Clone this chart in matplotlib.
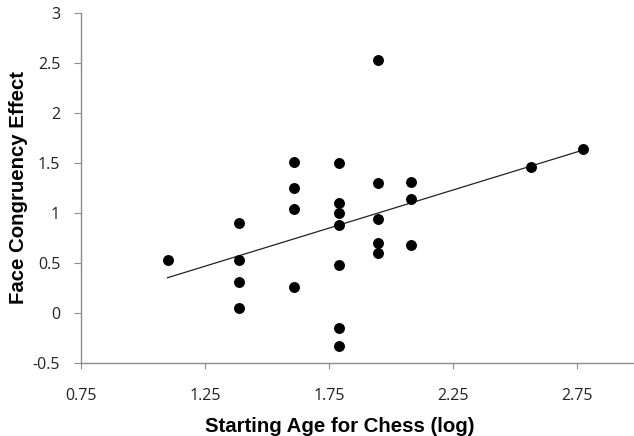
import numpy as np
import matplotlib.pyplot as plt

# starting age (natural log) and face congruency effect
start_age_log = [1.099,
                 1.386, 1.386, 1.386, 1.386,
                 1.609, 1.609, 1.609, 1.609,
                 1.792, 1.792, 1.792, 1.792, 1.792, 1.792, 1.792,
                 1.946, 1.946, 1.946, 1.946, 1.946,
                 2.079, 2.079, 2.079,
                 2.565, 2.773]
face_effect = [0.53,
               0.90, 0.53, 0.31, 0.05,
               1.51, 1.25, 1.04, 0.26,
               1.50, 1.10, 1.00, 0.88, 0.48, -0.15, -0.33,
               2.53, 1.30, 0.94, 0.70, 0.60,
               1.31, 1.14, 0.68,
               1.46, 1.64]
x_ticks = [0.75, 1.25, 1.75, 2.25, 2.75]
y_ticks = [-0.5, 0, 0.5, 1, 1.5, 2, 2.5, 3]
y_ticklabels = ["-0.5", "0", "0.5", "1", "1.5", "2", "2.5", "3"]

fig = plt.figure(figsize=(6.34, 4.36), dpi=100)
ax = fig.add_axes([81 / 634, 73 / 436, 1 - 81 / 634, 350 / 436])

ax.scatter(start_age_log, face_effect, s=62, color="black", zorder=3, linewidths=0)

# linear trendline
slope, intercept = np.polyfit(start_age_log, face_effect, 1)
xs = np.array([min(start_age_log), max(start_age_log)])
ax.plot(xs, slope * xs + intercept, color="#222222", lw=0.9, zorder=2)

ax.set_xlim(0.75, 0.75 + 553 / 248)
ax.set_ylim(-0.5, 3)
ax.set_xticks(x_ticks)
ax.set_xticklabels([f"{t:.2f}" for t in x_ticks])
ax.set_yticks(y_ticks)
ax.set_yticklabels(y_ticklabels)

for s in ["top", "right"]:
    ax.spines[s].set_visible(False)
for s in ["left", "bottom"]:
    ax.spines[s].set_color("#8c8c8c")
    ax.spines[s].set_linewidth(1.0)

ax.tick_params(axis="x", direction="out", length=4, color="#8c8c8c",
               pad=14, labelsize=11.5, labelcolor="#222222")
ax.tick_params(axis="y", direction="out", length=5, color="#8c8c8c",
               pad=10, labelsize=11.5, labelcolor="#222222")
for lab in ax.get_xticklabels() + ax.get_yticklabels():
    lab.set_family("Open Sans")

ax.set_xlabel("Starting Age for Chess (log)", fontsize=14.7, fontweight="bold",
              family="Liberation Sans")
ax.set_ylabel("Face Congruency Effect", fontsize=14.7, fontweight="bold",
              family="Liberation Sans")
ax.xaxis.set_label_coords((340 - 81) / 553, -0.155)
ax.yaxis.set_label_coords((28 - 81) / 553, 0.5)

plt.savefig("out.png", dpi=100)
